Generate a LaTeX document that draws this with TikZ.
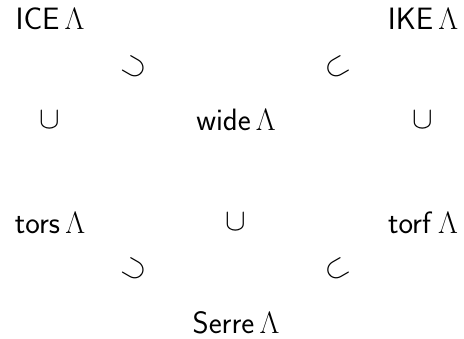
\RequirePackage{fix-cm}
\documentclass[tikz,border=0pt]{standalone}
\begin{document}
\begin{tikzpicture}[x=1bp,y=-1bp,
  lbl/.style={inner sep=0pt,anchor=base,font=\fontsize{31}{36}\selectfont},
  rel/.style={inner sep=0pt,anchor=center,font=\fontsize{31}{36}\selectfont}]
\useasboundingbox (0,0) rectangle (464,338);
\node[lbl] (ice) at (50,29) {$\mathsf{ICE}\,\Lambda$};
\node[lbl] (ike) at (423,29) {$\mathsf{IKE}\,\Lambda$};
\node[lbl] (wide) at (236,130) {$\mathsf{wide}\,\Lambda$};
\node[lbl] (tors) at (50,233) {$\mathsf{tors}\,\Lambda$};
\node[lbl] (torf) at (423,233) {$\mathsf{torf}\,\Lambda$};
\node[lbl] (serre) at (236,333) {$\mathsf{Serre}\,\Lambda$};
\node[rel,rotate=-30] (s1) at (135,68) {$\supset$};
\node[rel,rotate=30] (s2) at (337,68) {$\subset$};
\node[rel] (s3) at (50,120) {$\cup$};
\node[rel] (s4) at (423,120) {$\cup$};
\node[rel] (s5) at (236,222) {$\cup$};
\node[rel,rotate=-30] (s6) at (135,270) {$\supset$};
\node[rel,rotate=30] (s7) at (337,270) {$\subset$};
\end{tikzpicture}
\end{document}
